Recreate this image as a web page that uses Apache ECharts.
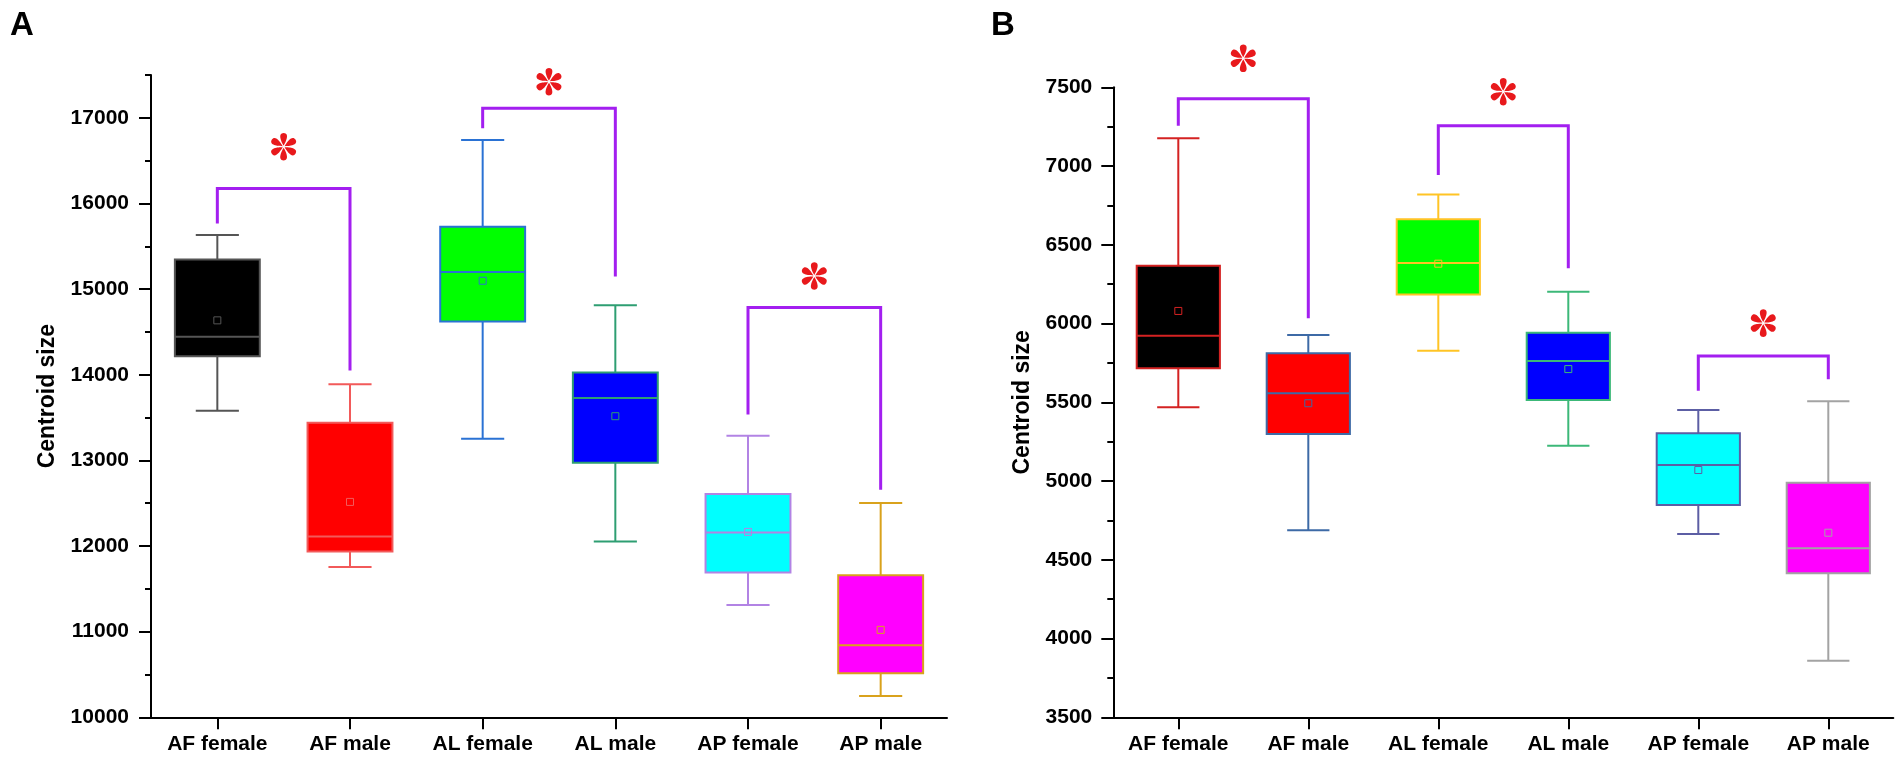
<!DOCTYPE html>
<html>
<head>
<meta charset="utf-8">
<script src="https://cdn.jsdelivr.net/npm/echarts@6/dist/echarts.min.js"></script>
<style>
html,body{margin:0;padding:0;background:#fff;}
#chart{width:1904px;height:762px;}
</style>
</head>
<body>
<div id="chart"></div>
<script>
// ---------- DATA ----------
const categories = ['AF female', 'AF male', 'AL female', 'AL male', 'AP female', 'AP male'];

// Panel A
const aMin    = [13579, 11754, 13254, 12054, 11310, 10249];
const aQ1     = [14217, 11937, 14623, 12972, 11692, 10515];
const aMedian = [14444, 12112, 15199, 13729, 12159, 10842];
const aQ3     = [15345, 13439, 15727, 14027, 12608, 11660];
const aMax    = [15633, 13890, 16740, 14812, 13287, 12503];
const aMean   = [14635, 12515, 15098, 13516, 12165, 11021];
// brackets: [leftCat, rightCat, top, leftBottom, rightBottom]
const aBrackets = [[0, 1, 16175, 15766, 14050], [2, 3, 17112, 16878, 15146], [4, 5, 14786, 13536, 12658]];
const aStarY = [16663, 17422, 15153];
const aTickLabels = [10000, 11000, 12000, 13000, 14000, 15000, 16000, 17000];

// Panel B
const bMin    = [5468, 4687, 5828, 5224, 4664, 3859];
const bQ1     = [5716, 5299, 6184, 5515, 4848, 4414];
const bMedian = [5923, 5557, 6384, 5762, 5102, 4573];
const bQ3     = [6367, 5811, 6662, 5942, 5303, 4990];
const bMax    = [7176, 5927, 6820, 6202, 5451, 5506];
const bMean   = [6080, 5494, 6380, 5711, 5070, 4672];
const bBrackets = [[0, 1, 7428, 7256, 6033], [2, 3, 7256, 6943, 6351], [4, 5, 5794, 5574, 5646]];
const bStarY = [7684, 7472, 6003];
const bTickLabels = [3500, 4000, 4500, 5000, 5500, 6000, 6500, 7000, 7500];

// ---------- STYLE ----------
const fills = ['#000000', '#ff0000', '#00ff00', '#0000ff', '#00ffff', '#ff00ff'];
const aBorders = ['#555555', '#f25a5a', '#2a72d4', '#2e9e72', '#b283e4', '#d9a21c'];
const bBorders = ['#d42222', '#3d6aa6', '#ffc425', '#3cb878', '#5c5ea4', '#a3a3a3'];
const bracketColor = '#a31ff0';
const starColor = '#e8191c';
const FONT = 'Liberation Sans';

function starPath() {
  let d = '';
  for (let k = 0; k < 6; k++) {
    const a = (90 + 60 * k) * Math.PI / 180;
    const dx = Math.cos(a), dy = -Math.sin(a);
    const px = -dy, py = dx;
    const P = (r, w) => (50 + dx * r * 50 + px * w * 50).toFixed(2) + ' ' + (50 + dy * r * 50 + py * w * 50).toFixed(2);
    d += 'M' + P(0.08, 0) + ' C' + P(0.35, 0.16) + ' ' + P(0.98, 0.46) + ' ' + P(1, 0) +
         ' C' + P(0.98, -0.46) + ' ' + P(0.35, -0.16) + ' ' + P(0.08, 0) + ' Z ';
  }
  return d;
}
const STAR = starPath();

function rows(mn, q1, md, q3, mx, mean) {
  return categories.map((c, i) => [i, mn[i], q1[i], md[i], q3[i], mx[i], mean[i]]);
}

function boxRenderer(borders) {
  return function (params, api) {
    const i = api.value(0);
    const band = api.size([1, 0])[0];
    const bw = band * 0.64, cw = band * 0.325;
    const pMin = api.coord([i, api.value(1)]);
    const pQ1 = api.coord([i, api.value(2)]);
    const pMed = api.coord([i, api.value(3)]);
    const pQ3 = api.coord([i, api.value(4)]);
    const pMax = api.coord([i, api.value(5)]);
    const pMean = api.coord([i, api.value(6)]);
    const x = pMin[0];
    const col = borders[i];
    const ls = {stroke: col, lineWidth: 2, fill: null};
    return {
      type: 'group',
      children: [
        {type: 'line', shape: {x1: x, y1: pMax[1], x2: x, y2: pQ3[1]}, style: ls},
        {type: 'line', shape: {x1: x, y1: pQ1[1], x2: x, y2: pMin[1]}, style: ls},
        {type: 'line', shape: {x1: x - cw / 2, y1: pMax[1], x2: x + cw / 2, y2: pMax[1]}, style: ls},
        {type: 'line', shape: {x1: x - cw / 2, y1: pMin[1], x2: x + cw / 2, y2: pMin[1]}, style: ls},
        {type: 'rect', shape: {x: x - bw / 2, y: pQ3[1], width: bw, height: pQ1[1] - pQ3[1]},
          style: {fill: fills[i], stroke: col, lineWidth: 2}},
        {type: 'line', shape: {x1: x - bw / 2, y1: pMed[1], x2: x + bw / 2, y2: pMed[1]}, style: ls},
        {type: 'rect', shape: {x: x - 3.5, y: pMean[1] - 3.5, width: 7, height: 7},
          style: {fill: null, stroke: col, lineWidth: 1}}
      ]
    };
  };
}

function bracketRender(params, api) {
  const l = api.coord([api.value(0), api.value(2)]);
  const r = api.coord([api.value(1), api.value(2)]);
  const lb = api.coord([api.value(0), api.value(3)]);
  const rb = api.coord([api.value(1), api.value(4)]);
  return {
    type: 'polyline',
    shape: {points: [[lb[0], lb[1]], [l[0], l[1]], [r[0], r[1]], [rb[0], rb[1]]]},
    style: {stroke: bracketColor, lineWidth: 3, fill: null}
  };
}

function starRender(params, api) {
  const l = api.coord([api.value(0), api.value(2)]);
  const r = api.coord([api.value(1), api.value(2)]);
  const cx = (l[0] + r[0]) / 2, cy = l[1];
  const w = 25, h = 28;
  return {
    type: 'path',
    shape: {pathData: STAR, x: cx - w / 2, y: cy - h / 2, width: w, height: h},
    style: {fill: starColor, stroke: null}
  };
}

const labelStyle = {color: '#000', fontFamily: FONT, fontWeight: 'bold', fontSize: 21};
const axisLine = {show: true, lineStyle: {color: '#000', width: 2}};
const plain = v => String(v);

function xAx(grid) {
  return {
    type: 'category', gridIndex: grid, data: categories, boundaryGap: true,
    axisLine: axisLine,
    axisTick: {show: true, alignWithLabel: true, interval: 0, length: 12, lineStyle: {color: '#000', width: 2}},
    axisLabel: Object.assign({margin: 16, interval: 0, hideOverlap: false}, labelStyle),
    splitLine: {show: false}
  };
}

const option = {
  animation: false,
  backgroundColor: '#fff',
  graphic: [
    {type: 'text', left: 10, top: 9, style: {text: 'A', fontSize: 33, fontWeight: 'bold', fontFamily: FONT, fill: '#000'}},
    {type: 'text', left: 991, top: 9, style: {text: 'B', fontSize: 33, fontWeight: 'bold', fontFamily: FONT, fill: '#000'}}
  ],
  grid: [
    {left: 151, top: 75, width: 796, bottom: 44.7},
    {left: 1113.3, top: 87.3, width: 780, bottom: 44.7}
  ],
  xAxis: [xAx(0), xAx(1)],
  yAxis: [
    {
      type: 'value', gridIndex: 0, position: 'left', min: 10000, max: 17500, interval: 500,
      axisLine: axisLine,
      axisTick: {show: true, length: 6, lineStyle: {color: '#000', width: 2}},
      axisLabel: {show: false}, splitLine: {show: false},
      name: 'Centroid size', nameLocation: 'middle', nameRotate: 90, nameGap: 92,
      nameTextStyle: {color: '#000', fontFamily: FONT, fontWeight: 'bold', fontSize: 23}
    },
    {
      type: 'value', gridIndex: 0, position: 'left', offset: 0, min: 10000, max: 17500, interval: 500,
      axisLine: {show: false},
      axisTick: {show: true, length: 12, customValues: aTickLabels, lineStyle: {color: '#000', width: 2}},
      axisLabel: Object.assign({margin: 22, customValues: aTickLabels, formatter: plain}, labelStyle),
      splitLine: {show: false}
    },
    {
      type: 'value', gridIndex: 1, position: 'left', min: 3500, max: 7500, interval: 500,
      axisLine: axisLine,
      axisTick: {show: true, length: 12, customValues: bTickLabels, lineStyle: {color: '#000', width: 2}},
      minorTick: {show: true, splitNumber: 2, length: 6, lineStyle: {color: '#000', width: 2}},
      axisLabel: Object.assign({margin: 21, customValues: bTickLabels, formatter: plain}, labelStyle),
      splitLine: {show: false},
      name: 'Centroid size', nameLocation: 'middle', nameRotate: 90, nameGap: 79,
      nameTextStyle: {color: '#000', fontFamily: FONT, fontWeight: 'bold', fontSize: 23}
    }
  ],
  series: [
    {type: 'custom', xAxisIndex: 0, yAxisIndex: 0, renderItem: boxRenderer(aBorders),
      data: rows(aMin, aQ1, aMedian, aQ3, aMax, aMean), encode: {x: 0, y: [1, 2, 3, 4, 5, 6]}, clip: false},
    {type: 'custom', xAxisIndex: 0, yAxisIndex: 0, renderItem: bracketRender,
      data: aBrackets, encode: {x: [0, 1], y: [2, 3, 4]}, clip: false},
    {type: 'custom', xAxisIndex: 0, yAxisIndex: 0, renderItem: starRender,
      data: aBrackets.map((b, k) => [b[0], b[1], aStarY[k]]), encode: {x: [0, 1], y: 2}, clip: false},
    {type: 'custom', xAxisIndex: 1, yAxisIndex: 2, renderItem: boxRenderer(bBorders),
      data: rows(bMin, bQ1, bMedian, bQ3, bMax, bMean), encode: {x: 0, y: [1, 2, 3, 4, 5, 6]}, clip: false},
    {type: 'custom', xAxisIndex: 1, yAxisIndex: 2, renderItem: bracketRender,
      data: bBrackets, encode: {x: [0, 1], y: [2, 3, 4]}, clip: false},
    {type: 'custom', xAxisIndex: 1, yAxisIndex: 2, renderItem: starRender,
      data: bBrackets.map((b, k) => [b[0], b[1], bStarY[k]]), encode: {x: [0, 1], y: 2}, clip: false}
  ]
};

const chart = echarts.init(document.getElementById('chart'), null, {renderer: 'canvas'});
chart.setOption(option);
</script>
</body>
</html>
